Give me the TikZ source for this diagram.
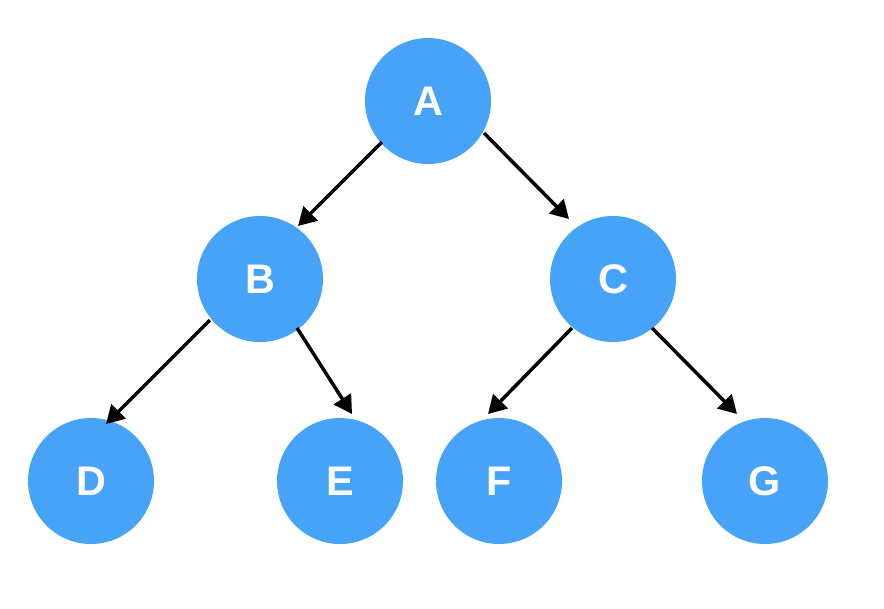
\documentclass[tikz,border=0pt]{standalone}
\usepackage{fontspec}
\setmainfont{Liberation Sans}
\usetikzlibrary{arrows.meta}
\definecolor{nodeblue}{HTML}{46A3F8}
\begin{document}
\begin{tikzpicture}[x=0.75pt,y=-0.75pt,
  tnode/.style={circle,fill=nodeblue,draw=none,minimum size=94.5pt,inner sep=0pt,
    text=white,font=\fontsize{31}{31}\selectfont\bfseries},
  edge/.style={line width=2.6pt,-{Triangle[length=13.5pt,width=15pt]}}]
\useasboundingbox (0,0) rectangle (884,608);
\node[tnode] (A) at (428,101) {A};
\node[tnode] (B) at (260,279) {B};
\node[tnode] (C) at (613,279) {C};
\node[tnode] (D) at (91,481) {D};
\node[tnode] (E) at (340,481) {E};
\node[tnode] (F) at (499,481) {F};
\node[tnode] (G) at (765,481) {G};
\draw[edge] ([shift={(-46,41)}]A.center) -- ([shift={(38,-53)}]B.center);
\draw[edge] ([shift={(56,32)}]A.center) -- ([shift={(-44,-60)}]C.center);
\draw[edge] ([shift={(-50,41)}]B.center) -- ([shift={(15,-57)}]D.center);
\draw[edge] ([shift={(37,49)}]B.center) -- ([shift={(12,-67)}]E.center);
\draw[edge] ([shift={(-41,49)}]C.center) -- ([shift={(-11,-67)}]F.center);
\draw[edge] ([shift={(39,49)}]C.center) -- ([shift={(-28,-67)}]G.center);
\end{tikzpicture}
\end{document}
